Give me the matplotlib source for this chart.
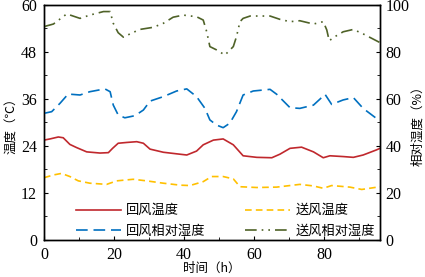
import numpy as np
import matplotlib
matplotlib.use('Agg')
import matplotlib.pyplot as plt
from matplotlib.ticker import MultipleLocator

plt.rcParams['font.family'] = 'Liberation Serif'
plt.rcParams['axes.unicode_minus'] = False

# return air temperature (C)
t_rt = [0, 1.7, 4.1, 5.5, 7.4, 9.3, 12.2, 16, 18.4, 19.6, 21.2, 23.6, 26.5, 28.4, 30.3, 34.1,
        37.9, 40.8, 43.6, 45.5, 48.4, 51.2, 54.1, 56.9, 60.8, 65.1, 67.4, 70.3, 73.6, 77,
        79.8, 81.7, 85.5, 88.4, 91.2, 95, 96]
T_rt = [25.5, 25.8, 26.3, 26.1, 24.4, 23.6, 22.5, 22.2, 22.3, 23.4, 24.7, 24.9, 25.1, 24.7, 23.2, 22.4,
        22.0, 21.7, 22.7, 24.3, 25.5, 25.8, 24.3, 21.5, 21.1, 21.0, 21.9, 23.4, 23.7, 22.5,
        21.0, 21.5, 21.3, 21.1, 21.7, 23.0, 23.4]

# supply air temperature (C)
t_st = [0, 2.7, 5, 7.4, 9.8, 13.1, 17.9, 20.8, 25.5, 29.3, 34.1, 38.9, 41.7, 45.5, 47.9,
        51.2, 54.1, 56, 60.8, 66.5, 73.1, 77, 79.8, 82.2, 87.4, 90.8, 96]
T_st = [15.9, 16.6, 17.0, 16.2, 15.1, 14.5, 14.2, 15.1, 15.5, 15.1, 14.5, 14.0, 13.9, 14.9, 16.2,
        16.2, 15.6, 13.6, 13.4, 13.5, 14.2, 13.8, 13.2, 13.9, 13.5, 12.9, 13.6]

# return air relative humidity (%)
t_rh = [0, 2.2, 4.6, 6.9, 10.3, 13.1, 17.4, 18.9, 19.8, 21.2, 23.1, 26, 28.4, 30.3, 34.1, 37.9,
        40.8, 43.6, 46, 47.4, 49.3, 51.2, 53.1, 55, 56.9, 59.8, 64.6, 66.5, 70.3, 73.1, 77,
        78.9, 80.3, 82.2, 85.5, 88.4, 91.2, 96]
RH_r = [53.9, 54.6, 58.2, 62.1, 61.7, 63.1, 64.3, 63.1, 57.4, 53.2, 52.0, 52.9, 55.3, 59.1, 61.0, 63.4,
        64.3, 61.0, 56.0, 51.1, 48.9, 47.8, 49.7, 54.6, 61.7, 63.4, 64.1, 62.0, 56.3, 56.0, 57.4,
        60.0, 62.0, 57.7, 59.6, 60.6, 56.0, 50.6]

# supply air relative humidity (%)
t_sh = [0, 2.7, 6.5, 10.3, 13.1, 17, 18.9, 19.8, 21.2, 22.7, 25, 27.4, 31.2, 34.1, 36.9, 39.8,
        43.6, 45.5, 46.5, 47.4, 49.3, 51.7, 54.1, 55, 56, 56.9, 58.9, 64.6, 67.4, 70.3, 73.1,
        77, 79.8, 80.8, 81.5, 83.1, 85.5, 88.4, 91.2, 96]
RH_s = [90.8, 91.9, 96.2, 94.3, 95.7, 97.2, 97.2, 92.2, 88.2, 86.3, 88.0, 89.6, 90.5, 92.2, 94.8, 95.7,
        95.0, 93.6, 88.6, 82.3, 80.9, 78.7, 82.3, 86.5, 92.9, 94.3, 95.3, 95.3, 93.9, 92.9, 93.3,
        91.9, 92.9, 89.4, 84.8, 86.5, 88.6, 89.6, 87.7, 84.0]

fig = plt.figure(figsize=(4.25, 2.77), dpi=100)
ax = fig.add_axes([0.1035, 0.1336, 0.7905, 0.8484])
ax2 = ax.twinx()

l1, = ax.plot(t_rt, T_rt, color='#C0282D', lw=1.2, label='回风温度')
l2, = ax.plot(t_st, T_st, color='#FFC000', lw=1.2, ls=(0, (4, 2.5)), label='送风温度')
l3, = ax2.plot(t_rh, RH_r, color='#0070C0', lw=1.2, ls=(0, (7, 3.5)), label='回风相对湿度')
l4, = ax2.plot(t_sh, RH_s, color='#4F6228', lw=1.2, ls=(0, (7, 3, 1, 3, 1, 3)), label='送风相对湿度')

ax.set_xlim(0, 96)
ax.set_ylim(0, 60)
ax2.set_ylim(0, 100)
ax.xaxis.set_major_locator(MultipleLocator(20))
ax.xaxis.set_minor_locator(MultipleLocator(10))
ax.yaxis.set_major_locator(MultipleLocator(12))
ax.yaxis.set_minor_locator(MultipleLocator(6))
ax2.yaxis.set_major_locator(MultipleLocator(20))
ax2.yaxis.set_minor_locator(MultipleLocator(10))

for a in (ax, ax2):
    a.tick_params(direction='in', which='both', labelsize=11.5, length=3)
    a.tick_params(which='minor', length=2)
    for s in a.spines.values():
        s.set_linewidth(1.0)
ax.tick_params(axis='x', pad=5)
ax.tick_params(axis='y', pad=5)
ax2.tick_params(axis='y', pad=4)

cjk = ['Noto Sans CJK SC', 'Liberation Serif']
ax.set_xlabel('时间（h）', fontsize=9, family=cjk, labelpad=-1)
ax.set_ylabel('温度（℃）', fontsize=9, family=cjk, labelpad=2)
ax2.set_ylabel('相对湿度（%）', fontsize=9, family=cjk, labelpad=1)

ax.legend(handles=[l1, l3, l2, l4], ncol=2, frameon=False, loc='lower left',
          bbox_to_anchor=(0.06, -0.04), prop={'family': cjk, 'size': 9.5},
          handlelength=3.4, columnspacing=3.0, labelspacing=0.55, handletextpad=0.4)

fig.savefig('out.png', dpi=100)
